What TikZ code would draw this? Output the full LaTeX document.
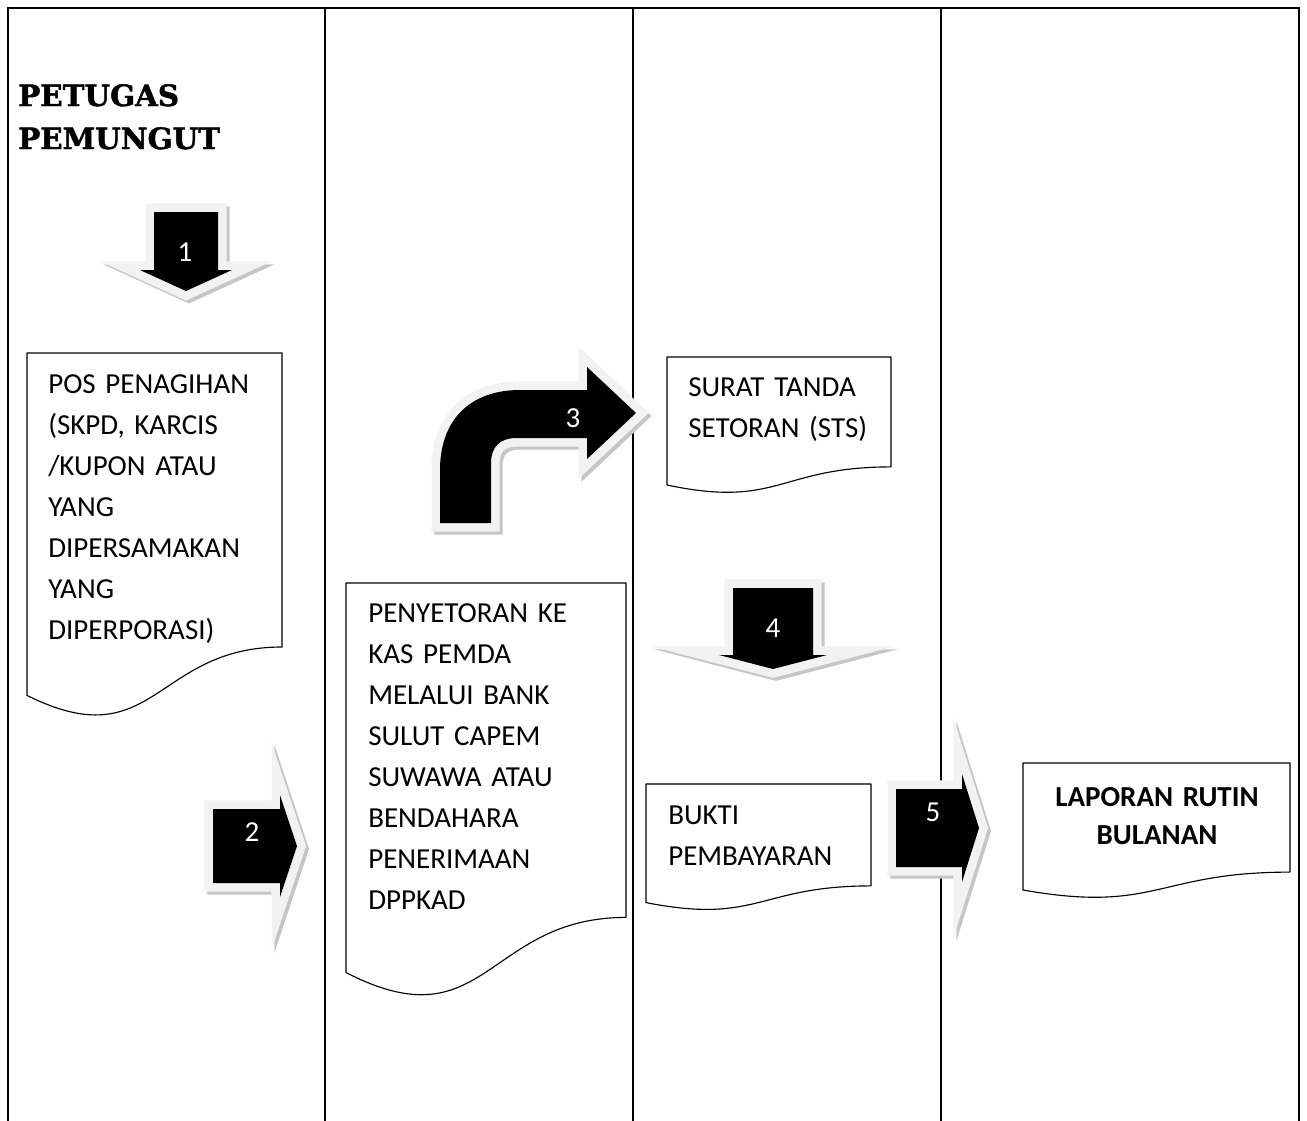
\documentclass[tikz,border=0pt]{standalone}
\usepackage{fontspec}
\setmainfont{Carlito}
\newfontfamily\judulfont[BoldFeatures={FakeBold=1.6}]{DejaVu Serif}
\usepackage{xcolor}

\newcommand{\isifont}{\fontsize{21.75}{30.75}\selectfont}

\tikzset{
 lane/.style={draw=black, line width=1.2pt},
 docbox/.style={draw=black, fill=white, line width=0.85pt, line join=round},
 doctext/.style={inner sep=0pt, anchor=base west, text width=200pt, align=left, font=\isifont},
 nomor/.style={inner sep=0pt, text=white, font=\isifont},
 blockarrow/.style={
   preaction={draw=gray!45, line width=13pt, line join=miter, miter limit=14,
              transform canvas={xshift=2.2pt,yshift=-2.2pt}},
   draw=gray!10, line width=13pt, line join=miter, miter limit=14,
   postaction={fill=black}}
}

\begin{document}
\begin{tikzpicture}[x=0.75pt, y=-0.75pt]

\useasboundingbox (0,0) rectangle (1307,1121);

% lajur
\draw[lane] (8,1121) -- (8,8) -- (1299,8) -- (1299,1121);
\foreach \lx in {325,633,941}
  \draw[lane] (\lx,8) -- (\lx,1121);

\node[inner sep=0pt, anchor=base west, text width=220pt, align=left,
      font=\judulfont\bfseries\fontsize{22}{32.25}\selectfont] (judul) at (18,106)
      {PETUGAS\\PEMUNGUT};

% dokumen
\filldraw[docbox] (27,353) -- (282,353) -- (282,647) .. controls (154.5,647) and (154.5,759) .. (27,695.4) -- cycle;
\node[doctext] (pos) at (48,393) {POS PENAGIHAN\\(SKPD, KARCIS\\/KUPON ATAU\\YANG\\DIPERSAMAKAN\\YANG\\DIPERPORASI)};

\filldraw[docbox] (346,583) -- (626,583) -- (626,917.4) .. controls (486,917.4) and (486,1044.8) .. (346,972.5) -- cycle;
\node[doctext] (setor) at (368,622) {PENYETORAN KE\\KAS PEMDA\\MELALUI BANK\\SULUT CAPEM\\SUWAWA ATAU\\BENDAHARA\\PENERIMAAN\\DPPKAD};

\filldraw[docbox] (667,357) -- (891,357) -- (891,466.9) .. controls (779,466.9) and (779,508.7) .. (667,485) -- cycle;
\node[doctext] (sts) at (688,396) {SURAT TANDA\\SETORAN (STS)};

\filldraw[docbox] (646,784) -- (871,784) -- (871,885.9) .. controls (758.5,885.9) and (758.5,924.7) .. (646,902.6) -- cycle;
\node[doctext] (bukti) at (668,824) {BUKTI\\PEMBAYARAN};

\filldraw[docbox] (1023,763) -- (1290,763) -- (1290,872.1) .. controls (1156.5,872.1) and (1156.5,913.6) .. (1023,890) -- cycle;
\node[doctext, anchor=base, align=center, font=\isifont\bfseries\fontsize{21.75}{28.5}\selectfont] (laporan) at (1157,806) {LAPORAN RUTIN\\BULANAN};

% panah
\path[blockarrow] (154,212) -- (218,212) -- (218,270) -- (232,270) -- (186,291) -- (140,270) -- (154,270) -- cycle;
\node[nomor] (n1) at (185,252) {1};

\path[blockarrow] (213,809) -- (280,809) -- (280,795) -- (297,846) -- (280,897) -- (280,883) -- (213,883) -- cycle;
\node[nomor] (n2) at (252,832) {2};

\path[blockarrow] (440,523) -- (440,470) .. controls (440,420) and (470,390) .. (520,390) -- (587,390) -- (587,367) -- (636,413) -- (587,459) -- (587,438) -- (516,438) .. controls (500,438) and (491,447) .. (491,463) -- (491,523) -- cycle;
\node[nomor] (n3) at (573,418) {3};

\path[blockarrow] (733,588) -- (813,588) -- (813,655) -- (827,655) -- (773,669) -- (719,655) -- (733,655) -- cycle;
\node[nomor] (n4) at (773,628) {4};

\path[blockarrow] (896,789) -- (962,789) -- (962,774) -- (979,828) -- (962,882) -- (962,867) -- (896,867) -- cycle;
\node[nomor] (n5) at (933,812) {5};

\end{tikzpicture}
\end{document}
